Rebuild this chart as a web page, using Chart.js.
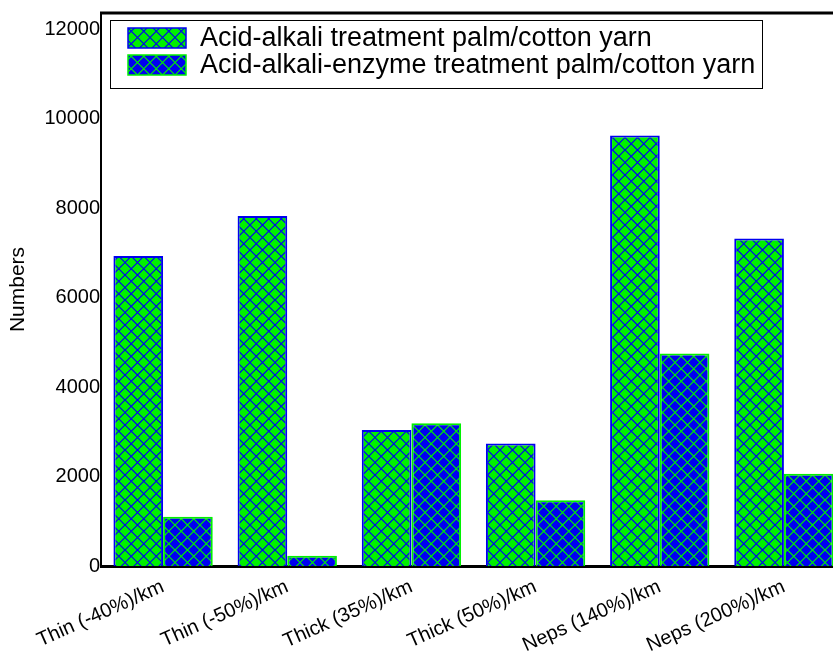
<!DOCTYPE html>
<html>
<head>
<meta charset="utf-8">
<script src="https://cdn.jsdelivr.net/npm/chart.js@4"></script>
<style>
  html, body { margin: 0; padding: 0; overflow: hidden; background: #fff; }
  #wrap { width: 833px; height: 656px; overflow: hidden; position: relative; }
  canvas { position: absolute; left: 0; top: 0; }
</style>
</head>
<body>
<div id="wrap"><canvas id="yarnChart" width="860" height="656"></canvas></div>
<script>
const categories = ["Thin (-40%)/km", "Thin (-50%)/km", "Thick (35%)/km", "Thick (50%)/km", "Neps (140%)/km", "Neps (200%)/km"];
const acidAlkali = [6930, 7820, 3040, 2740, 9620, 7320];
const acidAlkaliEnzyme = [1100, 230, 3190, 1470, 4750, 2060];
const seriesNames = ["Acid-alkali treatment palm/cotton yarn", "Acid-alkali-enzyme treatment palm/cotton yarn"];
const yTicks = [0, 2000, 4000, 6000, 8000, 10000, 12000];

const GREEN = "#00f000";
const BLUE = "#0000f0";
const FONT = "'Liberation Sans', Arial, sans-serif";

const ctx = document.getElementById("yarnChart").getContext("2d");

// crosshatch fill
function hatch(bg, fg) {
  const s = 12.5;
  const c = document.createElement("canvas");
  c.width = 25; c.height = 25;
  const g = c.getContext("2d");
  g.fillStyle = bg;
  g.fillRect(0, 0, 25, 25);
  g.strokeStyle = fg;
  g.lineWidth = 1.2;
  g.beginPath();
  for (let k = -2; k <= 2; k++) {
    g.moveTo(k * s - 1, -1); g.lineTo(k * s + 26, 26);
    g.moveTo(k * s + 26, -1); g.lineTo(k * s - 1, 26);
  }
  g.stroke();
  return ctx.createPattern(c, "repeat");
}

const greenFill = hatch(GREEN, BLUE);
const blueFill = hatch(BLUE, GREEN);

const boxLegend = {
  id: "boxLegend",
  afterDraw(chart) {
    const c = chart.ctx;
    const a = chart.chartArea;
    const x = a.left + 9, y = a.top + 7;
    c.save();
    c.fillStyle = "#fff";
    c.fillRect(x, y, 652, 68);
    c.strokeStyle = "#000";
    c.lineWidth = 1;
    c.strokeRect(x + 0.5, y + 0.5, 652, 68);
    chart.data.datasets.forEach((ds, i) => {
      const sy = y + 8 + i * 27;
      c.fillStyle = ds.backgroundColor;
      c.fillRect(x + 18, sy, 58, 20);
      c.strokeStyle = ds.borderColor;
      c.lineWidth = 1.5;
      c.strokeRect(x + 18, sy, 58, 20);
      c.fillStyle = "#000";
      c.font = "27px " + FONT;
      c.textBaseline = "middle";
      c.fillText(ds.label, x + 90, sy + 11);
    });
    // top frame line
    c.strokeStyle = "#000";
    c.lineWidth = 3;
    c.beginPath();
    c.moveTo(a.left - 1, a.top);
    c.lineTo(a.right, a.top);
    c.stroke();
    c.restore();
  }
};

new Chart(ctx, {
  type: "bar",
  data: {
    labels: categories,
    datasets: [{
      label: seriesNames[0],
      data: acidAlkali,
      backgroundColor: greenFill,
      borderColor: BLUE,
      borderWidth: 2
    }, {
      label: seriesNames[1],
      data: acidAlkaliEnzyme,
      backgroundColor: blueFill,
      borderColor: GREEN,
      borderWidth: 2
    }]
  },
  options: {
    responsive: false,
    animation: false,
    layout: { padding: { top: 13, right: 14, left: 0, bottom: 0 } },
    datasets: { bar: { categoryPercentage: 0.8, barPercentage: 1.0 } },
    plugins: {
      legend: { display: false },
      tooltip: { enabled: false }
    },
    scales: {
      x: {
        grid: { display: false, drawTicks: false, tickLength: 0 },
        border: { display: true, color: "#000", width: 3 },
        ticks: {
          color: "#000",
          font: { family: FONT, size: 20 },
          minRotation: 24,
          maxRotation: 24,
          padding: 9
        },
        afterFit: s => { s.height = 90; }
      },
      y: {
        min: 0,
        max: 12360,
        grid: { display: false, drawTicks: false, tickLength: 0 },
        border: { display: true, color: "#000", width: 2 },
        afterBuildTicks: s => { s.ticks = yTicks.map(v => ({ value: v })); },
        ticks: {
          color: "#000",
          font: { family: FONT, size: 20 },
          padding: 1,
          callback: v => String(v)
        },
        title: {
          display: true,
          text: "Numbers",
          color: "#000",
          font: { family: FONT, size: 21 },
          padding: { top: 6 }
        },
        afterFit: s => { s.width = 101; }
      }
    }
  },
  plugins: [boxLegend]
});
</script>
</body>
</html>
